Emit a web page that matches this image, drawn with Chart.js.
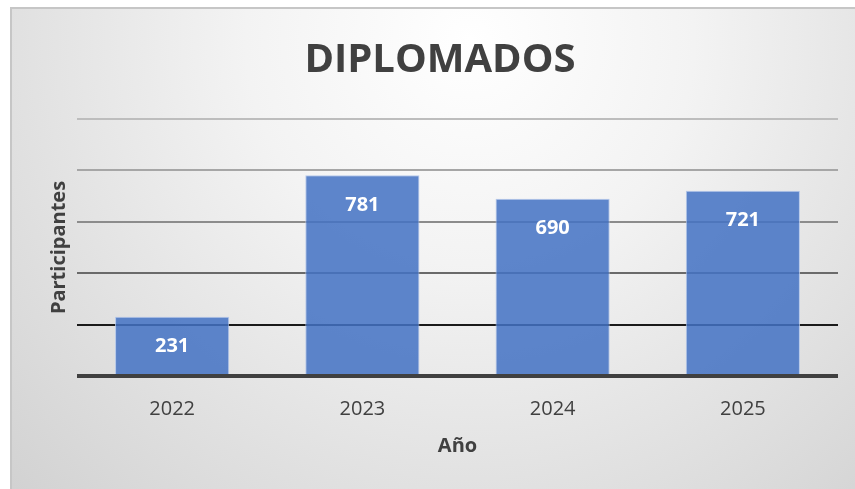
<!DOCTYPE html>
<html>
<head>
<meta charset="utf-8">
<script src="https://cdn.jsdelivr.net/npm/chart.js@4.4.1/dist/chart.umd.min.js"></script>
<style>
  html, body { margin: 0; padding: 0; background: #ffffff; }
  #wrap { width: 855px; height: 489px; }
</style>
</head>
<body>
<div id="wrap"><canvas id="c" width="855" height="489"></canvas></div>
<script>
const categories = ['2022', '2023', '2024', '2025'];
const participantes = [231, 781, 690, 721];
const yTicks = [0, 200, 400, 600, 800, 1000];
const chartTitle = 'DIPLOMADOS';
const xTitle = 'Año';
const yTitle = 'Participantes';

const gridColors = { 0: '#404040', 200: '#1a1a1a', 400: '#6a6a6a', 600: '#8c8c8c', 800: '#a6a6a6', 1000: '#bdbdbd' };

const bgPlugin = {
  id: 'bg',
  beforeDraw(chart) {
    const ctx = chart.ctx;
    ctx.save();
    ctx.fillStyle = '#ffffff';
    ctx.fillRect(0, 0, chart.width, chart.height);
    const g = ctx.createRadialGradient(470, 40, 0, 470, 40, 640);
    g.addColorStop(0, '#ffffff');
    g.addColorStop(0.35, '#f3f3f3');
    g.addColorStop(1, '#d2d2d2');
    ctx.fillStyle = g;
    ctx.fillRect(10, 7, chart.width - 10, chart.height - 7);
    ctx.strokeStyle = '#c6c6c6';
    ctx.lineWidth = 2;
    ctx.beginPath();
    ctx.moveTo(11, chart.height);
    ctx.lineTo(11, 8);
    ctx.lineTo(chart.width, 8);
    ctx.stroke();
    ctx.restore();
  }
};

const titleShift = {
  id: 'titleShift',
  afterLayout(chart) {
    const t = chart.titleBlock;
    if (t) { t.left += 16; t.right += 16; }
  }
};

const labelPlugin = {
  id: 'valueLabels',
  afterDatasetsDraw(chart) {
    const ctx = chart.ctx;
    const meta = chart.getDatasetMeta(0);
    ctx.save();
    ctx.font = 'bold 20px "Open Sans"';
    ctx.fillStyle = '#ffffff';
    ctx.textAlign = 'center';
    ctx.textBaseline = 'middle';
    meta.data.forEach((bar, i) => {
      ctx.fillText(String(participantes[i]), bar.x, bar.y + 30);
    });
    ctx.restore();
  }
};

new Chart(document.getElementById('c'), {
  type: 'bar',
  data: {
    labels: categories,
    datasets: [{
      label: yTitle,
      data: participantes,
      backgroundColor: 'rgba(68,114,196,0.86)',
      borderColor: 'rgba(175,196,234,0.9)',
      borderWidth: 1,
      barPercentage: 0.6,
      categoryPercentage: 1.0
    }]
  },
  options: {
    responsive: false,
    animation: false,
    layout: { padding: { left: 10, right: 17, top: 7, bottom: 0 } },
    plugins: {
      legend: { display: false },
      tooltip: { enabled: false },
      title: {
        display: true,
        text: chartTitle,
        color: '#404040',
        font: { family: '"Open Sans"', size: 40, weight: 'bold', lineHeight: 1.2 },
        padding: { top: 30, bottom: 34 }
      }
    },
    scales: {
      x: {
        grid: { display: false, drawTicks: false },
        border: { display: false },
        ticks: { color: '#404040', font: { family: '"Open Sans"', size: 20 }, padding: 21 },
        title: {
          display: true, text: xTitle, color: '#404040',
          font: { family: '"Open Sans"', size: 20, weight: 'bold', lineHeight: 1.2 },
          padding: { top: 31, bottom: 31 }
        },
        afterFit(scale) { scale.height = 113; }
      },
      y: {
        min: 0, max: 1000,
        afterBuildTicks(scale) { scale.ticks = yTicks.map(v => ({ value: v })); },
        ticks: { display: false },
        border: { display: false },
        grid: {
          drawTicks: false,
          color: ctx => gridColors[ctx.tick.value] || '#999999',
          lineWidth: ctx => ctx.tick.value === 0 ? 4 : 2
        },
        title: {
          display: true, text: yTitle, color: '#404040',
          font: { family: '"Open Sans"', size: 20, weight: 'bold', lineHeight: 1.2 },
          padding: { top: 37, bottom: 37 }
        },
        afterFit(scale) { scale.width = 67; }
      }
    }
  },
  plugins: [bgPlugin, titleShift, labelPlugin]
});
</script>
</body>
</html>
